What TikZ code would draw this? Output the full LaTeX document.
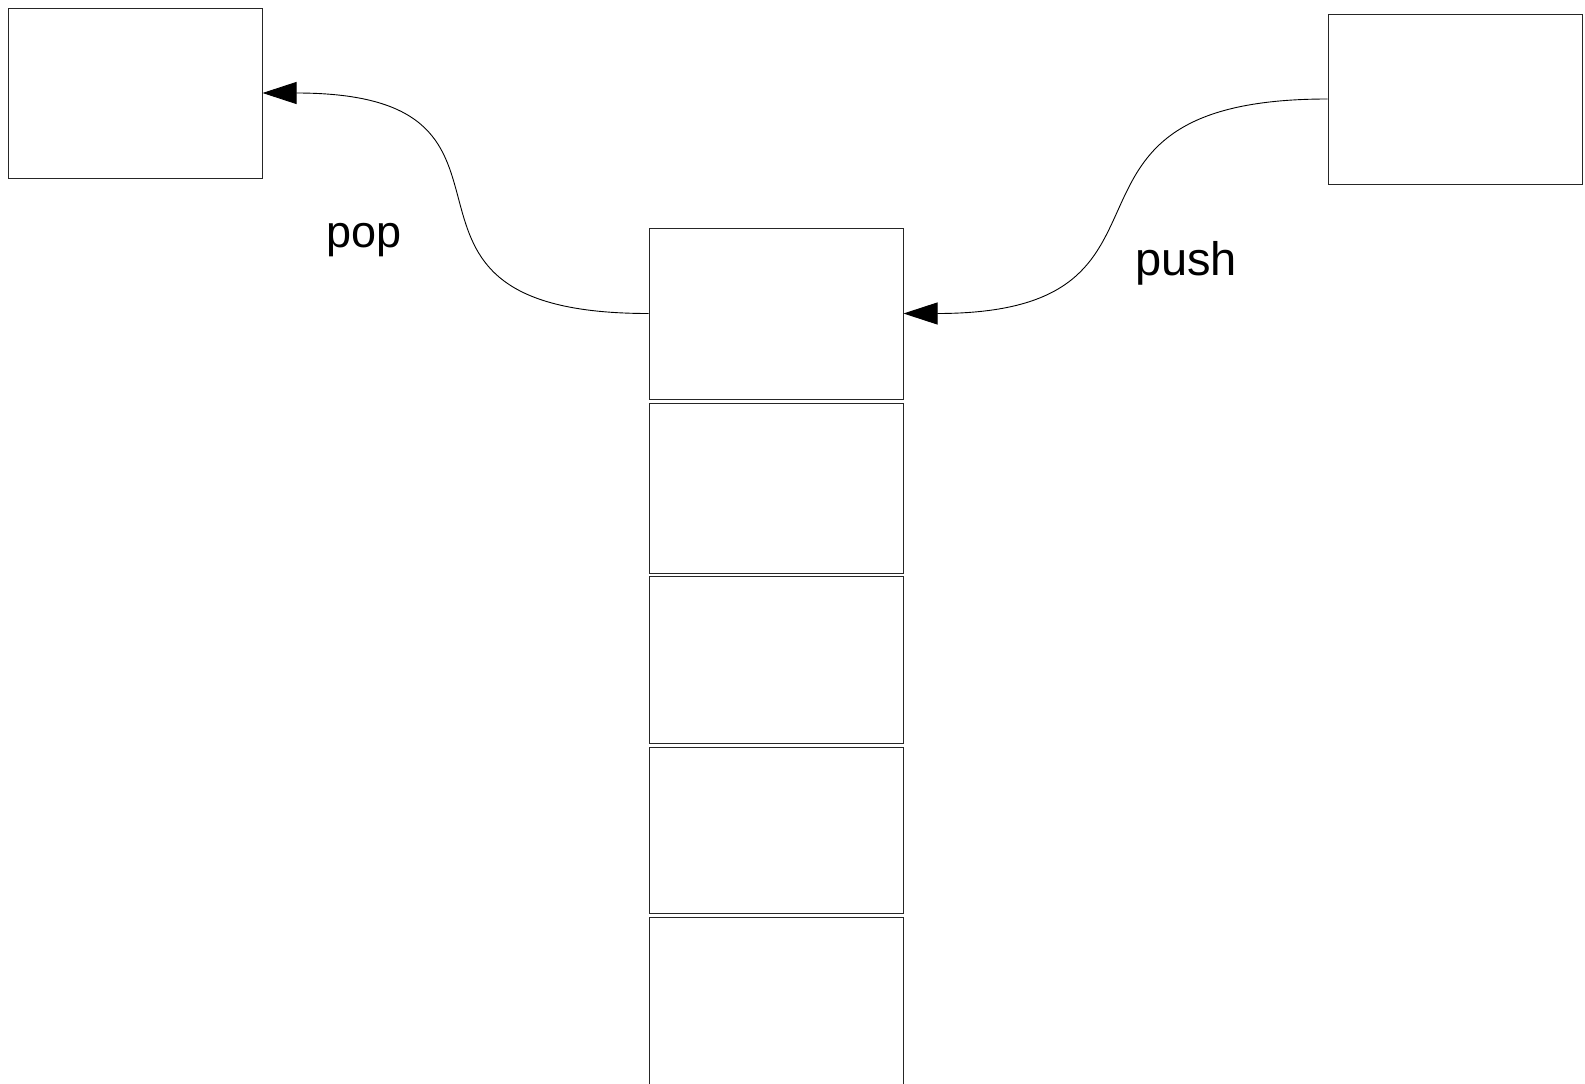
\documentclass[tikz,border=0pt]{standalone}
\usepackage{fontspec}
\setmainfont{Liberation Sans}
\usetikzlibrary{arrows.meta}
\begin{document}
\begin{tikzpicture}[x=1pt,y=-1pt,
  cell/.style={draw=black!85, line width=1pt, rectangle, inner sep=0pt, minimum width=254pt, minimum height=170pt},
  conn/.style={draw=black, line width=0.9pt, -{Triangle[length=34pt,width=22pt]}},
  lbl/.style={anchor=base, inner sep=0pt}]
\clip (0,0) rectangle (1585,1084);
\fill[white] (0,0) rectangle (1585,1084);
\node[cell] (left) at (135,93) {};
\node[cell] (right) at (1455,99) {};
\node[cell, minimum height=171pt] (s1) at (776,313.5) {};
\node[cell] (s2) at (776,488) {};
\node[cell, minimum height=166.5pt] (s3) at (776,659.75) {};
\node[cell, minimum height=166pt] (s4) at (776,830) {};
\node[cell] (s5) at (776,1002) {};
\draw[conn] (s1.west) .. controls +(-310,0) and +(310,0) .. (left.east);
\draw[conn] (right.west) .. controls +(-310,0) and +(310,0) .. (s1.east);
\node[lbl, font=\fontsize{45}{54}\selectfont] (pop) at (364,247) {pop};
\node[lbl, font=\fontsize{47}{56}\selectfont] (push) at (1186,275) {push};
\end{tikzpicture}
\end{document}
